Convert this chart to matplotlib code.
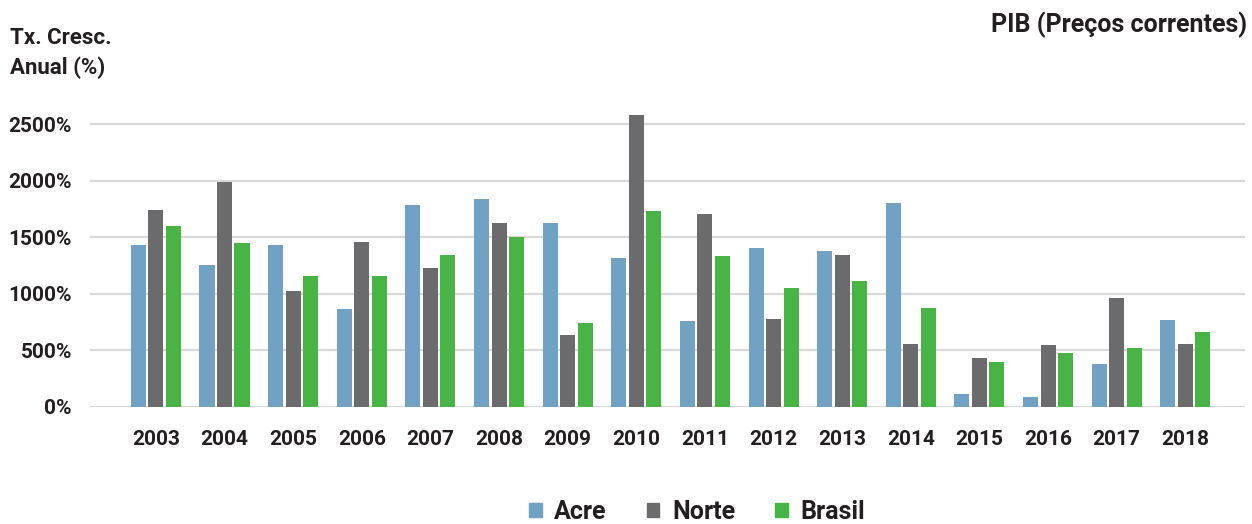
import matplotlib
matplotlib.use("Agg")
import matplotlib.pyplot as plt
from matplotlib.patches import Patch
import numpy as np

years = ["2003", "2004", "2005", "2006", "2007", "2008", "2009", "2010",
         "2011", "2012", "2013", "2014", "2015", "2016", "2017", "2018"]
acre = [1431, 1254, 1431, 865, 1785, 1838, 1626, 1316, 759, 1404, 1378, 1802, 112, 86, 378, 767]
norte = [1740, 1988, 1024, 1458, 1227, 1626, 634, 2582, 1705, 777, 1342, 555, 431, 546, 962, 555]
brasil = [1599, 1449, 1157, 1157, 1342, 1501, 741, 1732, 1333, 1050, 1112, 873, 396, 475, 519, 661]
series_names = ["Acre", "Norte", "Brasil"]
yticks = [0, 500, 1000, 1500, 2000, 2500]

colors = ["#71A2C4", "#6B6B6D", "#48B446"]
txt = "#231F20"
plt.rcParams['font.family'] = ['Roboto', 'DejaVu Sans']

W, H = 1252, 524
fig = plt.figure(figsize=(W / 100, H / 100), dpi=100)
left, right = 90, 1245
y0, ytop = 406.7, 101.6
ax = fig.add_axes([left / W, 1 - y0 / H, (right - left) / W, (y0 - ytop) / H])

x = np.arange(len(years))
bw = 0.219
off = 0.255
for i, (vals, c) in enumerate(zip([acre, norte, brasil], colors)):
    ax.bar(x + (i - 1) * off, vals, width=bw, color=c, zorder=3)

ax.set_xlim(-0.96, 15.87)
ax.set_ylim(0, 2700)
ax.set_yticks(yticks)
ax.set_yticklabels([f"{v}%" for v in yticks], fontsize=15, fontweight='bold', color=txt)
ax.set_xticks(x)
ax.set_xticklabels(years, fontsize=15, fontweight='bold', color=txt)
ax.tick_params(axis='both', length=0)
ax.tick_params(axis='x', pad=17)
ax.tick_params(axis='y', pad=13)
ax.grid(axis='y', color='#D9D9D9', linewidth=1.6, zorder=0)
for s in ax.spines.values():
    s.set_visible(False)

fig.text(10 / W, 1 - 38 / H, "Tx. Cresc.", fontsize=16, fontweight='bold', color=txt, va='center', ha='left')
fig.text(10 / W, 1 - 68 / H, "Anual (%)", fontsize=16, fontweight='bold', color=txt, va='center', ha='left')
fig.text(1247 / W, 1 - 25 / H, "PIB (Preços correntes)", fontsize=18, fontweight='bold', color=txt, va='center', ha='right')

handles = [Patch(color=c, label=n) for c, n in zip(colors, series_names)]
leg = fig.legend(handles=handles, loc='center', bbox_to_anchor=(697 / W, 1 - 512 / H), ncol=3,
                 frameon=False, handlelength=0.5, handleheight=0.5, handletextpad=0.5,
                 columnspacing=1.6, prop={'size': 18, 'weight': 'bold'})
for t in leg.get_texts():
    t.set_color(txt)

fig.savefig("out.png", dpi=100)
